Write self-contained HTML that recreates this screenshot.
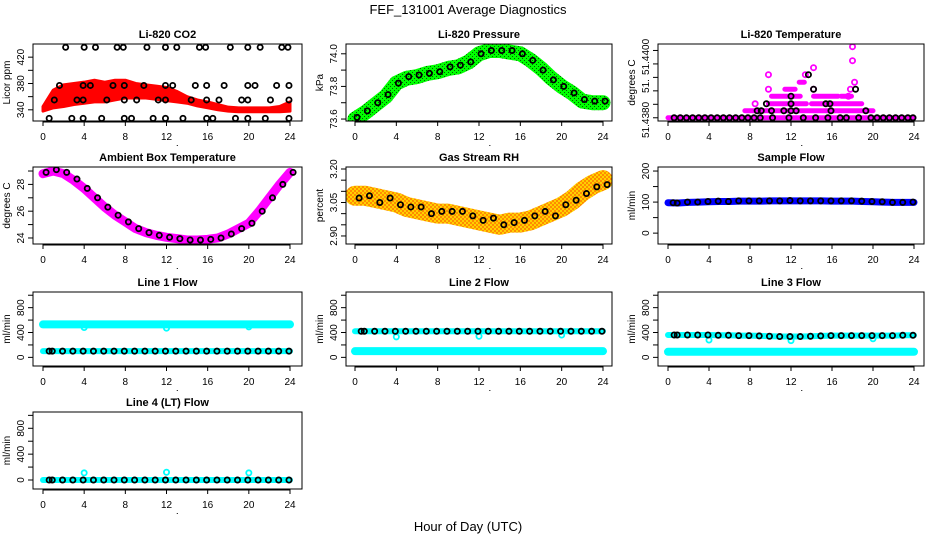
<!DOCTYPE html>
<html><head><meta charset="utf-8">
<style>
html,body{margin:0;padding:0;background:#fff;}
svg{display:block;font-family:"Liberation Sans",sans-serif;}
</style></head>
<body>
<svg id="chart" width="936" height="540" viewBox="0 0 936 540" xmlns="http://www.w3.org/2000/svg">
<defs>
<pattern id="rhpat" width="4" height="4" patternUnits="userSpaceOnUse"><rect width="4" height="4" fill="#ffd000"/><rect width="2" height="2" fill="#ff8c00"/><rect x="2" y="2" width="2" height="2" fill="#ff8c00"/></pattern>
<pattern id="grpat" width="4" height="4" patternUnits="userSpaceOnUse"><rect width="4" height="4" fill="#00ff00"/><rect width="1" height="1" fill="#006000"/><rect x="2" y="2" width="1" height="1" fill="#006000"/></pattern>
</defs>
<text x="468" y="14" text-anchor="middle" font-size="13">FEF_131001  Average Diagnostics</text>
<text x="468" y="531" text-anchor="middle" font-size="13">Hour of Day (UTC)</text>
</svg>
<script>
const HOURS=[0,1,2,3,4,5,6,7,8,9,10,11,12,13,14,15,16,17,18,19,20,21,22,23,24];
const XTICKS=[0,4,8,12,16,20,24];

// Li-820 CO2
const co2Upper=[345,370,378,380,382,385,382,385,385,380,378,376,374,368,360,355,352,348,344,343,343,343,343,345,352];
const co2Lower=[338,343,345,348,350,352,352,355,358,358,358,356,354,352,350,346,343,340,338,337,337,337,337,337,338];
const co2BlackHours=[2.2,4,5.1,7.2,7.8,10.1,11.9,13,15.2,15.8,18.2,19.9,21.1,23.2,23.8, 1.6,3.9,4.6,6.8,7.9,9.8,11.9,12.6,14.8,15.9,17.6,19.9,20.6,22.7,23.9, 1.1,3.3,3.9,6.2,7.9,9.1,11.2,11.9,14.4,15.9,17.1,19.3,19.9,22.1,23.9, 0.6,2.8,3.9,5.7,7.9,8.6,10.7,11.9,13.6,15.9,16.5,18.7,19.9,21.6,23.9];
const co2BlackVals=[435,435,435,435,435,435,435,435,435,435,435,435,435,435,435, 377,377,377,377,377,377,377,377,377,377,377,377,377,377,377, 355,355,355,355,355,355,355,355,355,355,355,355,355,355,355, 327,327,327,327,327,327,327,327,327,327,327,327,327,327,327];

// Li-820 Pressure
const presBand=[73.60,73.64,73.69,73.74,73.82,73.85,73.86,73.88,73.89,73.91,73.92,73.95,74.0,74.02,74.02,74.01,74.0,73.96,73.91,73.85,73.80,73.76,73.71,73.70,73.70];
const presBlack=[73.61,73.65,73.70,73.75,73.82,73.86,73.87,73.88,73.89,73.92,73.93,73.95,74.0,74.02,74.02,74.02,74.0,73.96,73.90,73.84,73.80,73.76,73.72,73.71,73.71];

// Li-820 Temperature
const tempSegStart=[0,7.5,9.8,14,10.1,14.2,16.9,11.4,12.8];
const tempSegEnd=[24,20,13.5,18.9,12.9,16.6,17.9,12.4,13.3];
const tempSegVal=[51.4380,51.43813,51.43826,51.43826,51.4384,51.4384,51.4384,51.43853,51.43866];
const tempPinkHours=[8.5,17.6,9.8,14.2,17.8,18.2,9.8,13.4,14.2,18,18];
const tempPinkVals=[51.43826,51.4384,51.43853,51.43853,51.43853,51.43866,51.4388,51.4388,51.43893,51.43906,51.43932];
const tempBlackHours=[0.6,1.2,1.8,2.4,3,3.6,4.2,4.8,5.4,6,6.6,7.2,7.8,8.4,9,10.2,11.8,13.2,14.4,15.6,16.8,17.4,18.6,19.8,20.4,21,21.6,22.2,22.8,23.4,23.9, 8.7,9.1,10.1,11.3,12,12.5,15.9,19.3, 9.6,12,15.4,15.8, 12, 14.2,18.3, 13.7];
const tempBlackVals=[51.4380,51.4380,51.4380,51.4380,51.4380,51.4380,51.4380,51.4380,51.4380,51.4380,51.4380,51.4380,51.4380,51.4380,51.4380,51.4380,51.4380,51.4380,51.4380,51.4380,51.4380,51.4380,51.4380,51.4380,51.4380,51.4380,51.4380,51.4380,51.4380,51.4380,51.4380, 51.43813,51.43813,51.43813,51.43813,51.43813,51.43813,51.43813,51.43813, 51.43826,51.43826,51.43826,51.43826, 51.4384, 51.43853,51.43853, 51.4388];

// Ambient Box Temperature
const ambBand=[28.8,29.0,28.8,28.3,27.7,27.0,26.3,25.7,25.2,24.7,24.4,24.2,24.05,23.95,23.85,23.85,23.9,24.0,24.3,24.7,25.1,26.0,27.0,28.0,28.9];
const ambBlack=[28.9,29.1,28.9,28.4,27.7,27.0,26.3,25.7,25.2,24.7,24.4,24.2,24.05,23.95,23.85,23.85,23.9,24.0,24.3,24.7,25.1,26.0,27.0,28.0,28.9];

// Gas Stream RH
const rhBand=[3.08,3.08,3.07,3.06,3.05,3.03,3.02,3.01,3.00,3.00,2.99,2.98,2.97,2.96,2.95,2.96,2.96,2.97,2.99,3.01,3.03,3.06,3.10,3.13,3.15];
const rhBlack=[3.07,3.08,3.05,3.07,3.04,3.03,3.03,3.00,3.01,3.01,3.01,2.99,2.97,2.98,2.95,2.96,2.97,2.99,3.01,2.99,3.04,3.06,3.09,3.12,3.13];

// Sample Flow
const sampleBand=[98,97,99,100,101,102,102,103,103,103,104,104,104,104,104,104,103,103,103,102,101,100,99,99,99];
const sampleBlack=[98,97,100,100,102,103,102,104,104,104,104,104,105,104,104,104,104,104,104,103,102,101,99,99,100];

// Line flows
const line1Cyan=[530,530,530,530,530,530,530,530,530,530,530,530,530,530,530,530,530,530,530,530,530,530,530,530,530];
const line1Black=[100,100,100,100,100,100,100,100,100,100,100,100,100,100,100,100,100,100,100,100,100,100,100,100,100];
const line2Cyan=[100,100,100,100,100,100,100,100,100,100,100,100,100,100,100,100,100,100,100,100,100,100,100,100,100];
const line2Black=[420,420,420,420,420,420,420,420,420,420,420,420,420,420,420,420,420,420,420,420,420,420,420,420,420];
const line3Cyan=[90,90,90,90,90,90,90,90,90,90,90,90,90,90,90,90,90,90,90,90,90,90,90,90,90];
const line3Black=[360,360,360,360,360,355,355,350,350,345,340,335,335,335,340,345,350,350,350,350,350,350,350,355,355];
const line4Black=[0,0,0,0,0,0,0,0,0,0,0,0,0,0,0,0,0,0,0,0,0,0,0,0,0];
const dipHours=[4,12,20];
const line1Dip=[480,470,490];
const line2Dip=[330,340,360];
const line3Dip=[280,270,300];
const line4Dip=[110,120,110];

const NS="http://www.w3.org/2000/svg";
const svg=document.getElementById('chart');
const COLS=[{l:33,r:302,h0:43,h24:290},{l:346,r:612,h0:355,h24:603},{l:658,r:924,h0:668,h24:914}];
const ROWS=[{t:44,b:121},{t:167,b:244},{t:292,b:366},{t:412,b:489}];

function mk(tag,attrs,parent){const e=document.createElementNS(NS,tag);for(const k in attrs)e.setAttribute(k,attrs[k]);(parent||svg).appendChild(e);return e;}

function panel(col,row,title,ytitle,ylim,yticks,ylabVals,ylabTexts){
  const C=COLS[col],R=ROWS[row];
  const g=mk('g',{});
  
  
  const sx=h=>C.h0+(h/24)*(C.h24-C.h0);
  const sy=v=>R.b-(v-ylim[0])/(ylim[1]-ylim[0])*(R.b-R.t);
  const t=mk('text',{x:(C.l+C.r)/2,y:R.t-6,'text-anchor':'middle','font-size':11,'font-weight':'bold'},g);
  t.textContent=title;
  
  
  const yt=mk('text',{x:0,y:0,'text-anchor':'middle','font-size':10,transform:`translate(${C.l-23},${(R.t+R.b)/2}) rotate(-90)`},g);
  yt.textContent=ytitle;
  
  
  const xa=mk('g',{},g);
  
  
  mk('line',{x1:sx(0),x2:sx(24),y1:R.b+1,y2:R.b+1,stroke:'#000'},xa);
  XTICKS.forEach(h=>{
    mk('line',{x1:sx(h),x2:sx(h),y1:R.b,y2:R.b+5,stroke:'#000'},xa);
    const tx=mk('text',{x:sx(h),y:R.b+19,'text-anchor':'middle','font-size':10},xa);
    tx.textContent=h;
    
    
  });
  mk('rect',{x:sx(13),y:R.b+24,width:1,height:1,fill:'#000'},xa);
  const ya=mk('g',{},g);
  
  
  yticks.forEach(v=>{mk('line',{x1:C.l-5,x2:C.l,y1:sy(v),y2:sy(v),stroke:'#000'},ya);});
  ylabVals.forEach((v,i)=>{
    const ty=mk('text',{x:0,y:0,'text-anchor':'middle','font-size':10,transform:`translate(${C.l-9},${sy(v)}) rotate(-90)`},ya);
    ty.textContent=ylabTexts[i];
    
    
  });
  const plot=mk('g',{},g);
  
  
  const cp='clip'+col+row;
  const cl=mk('clipPath',{id:cp},g);
  mk('rect',{x:C.l,y:R.t,width:C.r-C.l,height:R.b-R.t},cl);
  plot.setAttribute('clip-path',`url(#${cp})`);
  const box=mk('rect',{x:C.l,y:R.t,width:C.r-C.l,height:R.b-R.t,fill:'none',stroke:'#000','stroke-width':1},g);
  
  
  return {sx,sy,plot};
}
function band(P,hours,vals,color,w,name){
  const pts=hours.map((h,i)=>P.sx(h)+','+P.sy(vals[i])).join(' ');
  const pl=mk('polyline',{points:pts,fill:'none',stroke:color,'stroke-width':w,'stroke-linejoin':'round','stroke-linecap':'round'},P.plot);
  
  
}
function circles(P,hours,vals,color,name,r){
  hours.forEach((h,i)=>{
    const c=mk('circle',{cx:P.sx(h),cy:P.sy(vals[i]),r:r||2.6,fill:'none',stroke:color,'stroke-width':1.8},P.plot);
    
    
  });
}

// Panel 1: CO2
let P=panel(0,0,'Li-820 CO2','Licor ppm',[323,440],[340,360,380,400,420],[340,380,420],['340','380','420']);
const co2Pts=HOURS.map((h,i)=>P.sx(h)+','+P.sy(co2Upper[i])).concat(HOURS.slice().reverse().map((h,j)=>P.sx(h)+','+P.sy(co2Lower[HOURS.length-1-j]))).join(' ');
const co2Poly=mk('polygon',{points:co2Pts,fill:'#ff0000',stroke:'#ff0000','stroke-width':3,'stroke-linejoin':'round'},P.plot);


circles(P,co2BlackHours,co2BlackVals,'#000','co2-hourly-point');

// Panel 2: Pressure
P=panel(1,0,'Li-820 Pressure','kPa',[73.588,74.06],[73.6,73.7,73.8,73.9,74.0],[73.6,73.8,74.0],['73.6','73.8','74.0']);
band(P,HOURS,presBand,'url(#grpat)',15,'pressure-green-band');
circles(P,HOURS.map(h=>h+0.2),presBlack,'#000','pressure-hourly-point');

// Panel 3: Temperature
P=panel(2,0,'Li-820 Temperature','degrees C',[51.43794,51.43937],[51.4380,51.43825,51.4385,51.43875,51.4390,51.43925],[51.43796,51.43859,51.43913],['51.4380','51.','51.4400']);
tempSegStart.forEach((s,i)=>{
  const ln=mk('line',{x1:P.sx(s),x2:P.sx(tempSegEnd[i]),y1:P.sy(tempSegVal[i]),y2:P.sy(tempSegVal[i]),stroke:'#ff00ff','stroke-width':5,'stroke-linecap':'round'},P.plot);
  
  
});
circles(P,tempPinkHours,tempPinkVals,'#ff00ff','temperature-magenta-point');
circles(P,tempBlackHours,tempBlackVals,'#000','temperature-hourly-point');

// Panel 4: Ambient
P=panel(0,1,'Ambient Box Temperature','degrees C',[23.55,29.3],[24,25,26,27,28,29],[24,26,28],['24','26','28']);
band(P,HOURS,ambBand,'#ff00ff',9,'ambient-magenta-band');
circles(P,HOURS.map(h=>h+0.3),ambBlack,'#000','ambient-hourly-point');

// Panel 5: Gas RH
P=panel(1,1,'Gas Stream RH','percent',[2.864,3.209],[2.90,2.95,3.00,3.05,3.10,3.15,3.20],[2.90,3.05,3.20],['2.90','3.05','3.20']);
band(P,HOURS,rhBand,'url(#rhpat)',20,'rh-orange-band');
circles(P,HOURS.map(h=>h+0.4),rhBlack,'#000','rh-hourly-point');

// Panel 6: Sample Flow
P=panel(2,1,'Sample Flow','ml/min',[-35,213],[0,50,100,150,200],[0,100,200],['0','100','200']);
band(P,HOURS,sampleBand,'#0000ff',7,'sample-blue-band');
circles(P,HOURS.map(h=>Math.max(h-0.1,0.5)),sampleBlack,'#000','sample-hourly-point');

const FL=[-139,1052],FT=[0,200,400,600,800,1000],FLV=[0,400,800],FLT=['0','400','800'];
// Line 1
P=panel(0,2,'Line 1 Flow','ml/min',FL,FT,FLV,FLT);
band(P,HOURS,line1Cyan,'#00ffff',8,'line1-cyan-band');
band(P,HOURS,line1Black,'#00ffff',6,'line1-cyan-low-band');
circles(P,dipHours,line1Dip,'#00ffff','line1-cyan-dip');
circles(P,HOURS.map(h=>Math.max(h-0.1,0.6)),line1Black,'#000','line1-hourly-point');
// Line 2
P=panel(1,2,'Line 2 Flow','ml/min',FL,FT,FLV,FLT);
band(P,HOURS,line2Cyan,'#00ffff',8,'line2-cyan-band');
band(P,HOURS,line2Black,'#00ffff',6,'line2-cyan-high-band');
circles(P,dipHours,line2Dip,'#00ffff','line2-cyan-dip');
circles(P,HOURS.map(h=>Math.max(h-0.1,0.6)),line2Black,'#000','line2-hourly-point');
// Line 3
P=panel(2,2,'Line 3 Flow','ml/min',FL,FT,FLV,FLT);
band(P,HOURS,line3Cyan,'#00ffff',8,'line3-cyan-band');
band(P,HOURS,line3Black,'#00ffff',6,'line3-cyan-high-band');
circles(P,dipHours,line3Dip,'#00ffff','line3-cyan-dip');
circles(P,HOURS.map(h=>Math.max(h-0.1,0.6)),line3Black,'#000','line3-hourly-point');
// Line 4
P=panel(0,3,'Line 4 (LT) Flow','ml/min',FL,FT,FLV,FLT);
band(P,HOURS,line4Black,'#00ffff',6,'line4-cyan-band');
circles(P,dipHours,line4Dip,'#00ffff','line4-cyan-spike');
circles(P,HOURS.map(h=>Math.max(h-0.1,0.6)),line4Black,'#000','line4-hourly-point');
</script>
</body></html>
